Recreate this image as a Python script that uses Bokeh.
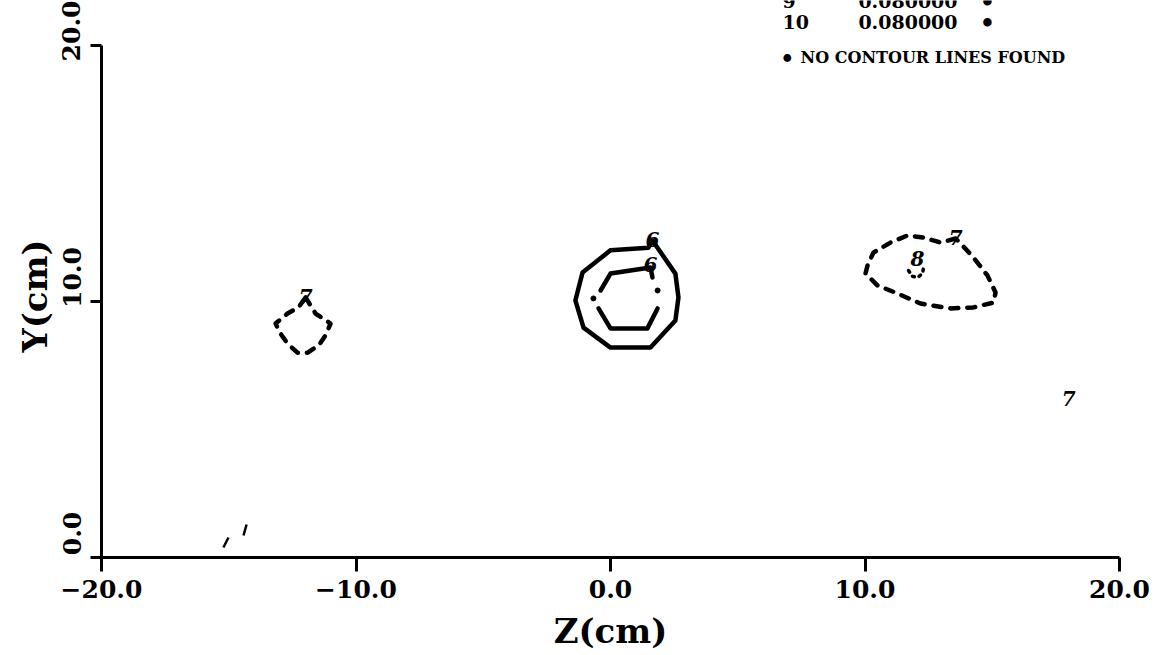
import math

from bokeh.core.properties import value
from bokeh.embed import file_html
from bokeh.models import FixedTicker, Label, LinearAxis, Range1d, Title
from bokeh.plotting import figure
from bokeh.resources import INLINE

FONT = "DejaVu Serif"
W, H = 1165, 655

# Axis ticks and their labels
x_ticks = [-20, -10, 0, 10, 20]
x_tick_labels = ["−20.0", "−10.0", "0.0", "10.0", "20.0"]
y_ticks = [0, 10, 20]
y_tick_labels = ["0.0", "10.0", "20.0"]

# Level 6, solid: outer ring around the centre
lvl6_outer_z = [0.0, 1.49, 1.65, 2.55, 2.67, 2.55, 1.57, 0.0, -1.06, -1.38, -1.10, 0.0]
lvl6_outer_y = [12.0, 12.1, 12.38, 11.09, 10.16, 9.26, 8.2, 8.2, 8.98, 10.04, 11.13, 12.0]

# Level 6, solid: inner ring (broken where the plotter lifted the pen)
lvl6_inner_z = [1.65, 1.57, 0.0, -0.39, math.nan, -0.47, 0.0, 1.45, 1.85]
lvl6_inner_y = [10.94, 11.33, 11.09, 10.43, math.nan, 9.73, 8.95, 8.95, 9.73]
lvl6_dots_z = [-0.67, 1.85]
lvl6_dots_y = [10.12, 10.43]

# Level 7, dashed: right-hand closed contour
lvl7_right_z = [13.56, 12.97, 12.30, 11.67, 11.00, 10.33, 10.10, 10.02, 10.49, 11.28,
                12.18, 13.36, 14.26, 15.05, 15.13, 14.81, 14.26, 13.83, 13.56]
lvl7_right_y = [12.46, 12.30, 12.50, 12.58, 12.30, 11.91, 11.41, 11.09, 10.63, 10.31,
                9.92, 9.73, 9.77, 9.96, 10.35, 11.02, 11.72, 12.19, 12.46]

# Level 7, dashed: left-hand closed contour
lvl7_left_z = [-11.98, -11.59, -11.00, -11.20, -11.47, -11.90, -12.30, -12.69, -12.97,
               -13.16, -12.69, -12.26, -11.98]
lvl7_left_y = [10.16, 9.53, 9.14, 8.67, 8.28, 8.00, 8.00, 8.36, 8.75, 9.14, 9.53, 9.77, 10.16]

# Level 8, dashed: tiny patch inside the right-hand level-7 contour
lvl8_z = [11.71, 11.87, 12.06, 12.26, 12.30]
lvl8_y = [11.21, 10.98, 10.94, 11.09, 11.33]

# Short strokes near the lower-left corner
stroke_z0 = [-15.21, -14.42]
stroke_y0 = [0.39, 0.86]
stroke_z1 = [-15.01, -14.30]
stroke_y1 = [0.78, 1.29]

# Contour level labels
label_z = [1.65, 1.57, 13.56, -11.98, 12.06, 18.0]
label_y = [12.42, 11.45, 12.50, 10.20, 11.68, 6.20]
label_text = ["6", "6", "7", "7", "8", "7"]

# Levels without contour lines
missing_levels = ["9", "10"]
missing_values = ["0.080000", "0.080000"]
missing_note = "NO CONTOUR LINES FOUND"

# Plot area: the axes span z in [-20, 20] and y in [0, 20]; the frame runs up to the
# top edge so that the level table above the axes can be drawn in data space.
FRAME_L, FRAME_R, AXIS_TOP, FRAME_B = 101, 1119, 45, 557
Y_PER_PX = 20.0 / (FRAME_B - AXIS_TOP)
Y_TOP = 20.0 + AXIS_TOP * Y_PER_PX

p = figure(
    width=W, height=H,
    x_range=Range1d(-20, 20), y_range=Range1d(0, Y_TOP),
    output_backend="svg", toolbar_location=None,
    min_border_left=FRAME_L, min_border_right=W - FRAME_R,
    min_border_top=0, min_border_bottom=H - FRAME_B,
)
p.outline_line_color = None
p.xgrid.visible = False
p.ygrid.visible = False
p.background_fill_color = "white"
p.border_fill_color = "white"

for ax in (p.xaxis[0], p.yaxis[0]):
    ax.axis_line_width = 3
    ax.axis_line_color = "black"
    ax.major_tick_line_width = 3
    ax.major_tick_line_color = "black"
    ax.major_tick_in = 0
    ax.minor_tick_in = 0
    ax.minor_tick_out = 0

xa = p.xaxis[0]
xa.ticker = FixedTicker(ticks=x_ticks)
xa.bounds = (-20, 20)
xa.major_label_overrides = {t: s for t, s in zip(x_ticks, x_tick_labels)}
xa.major_tick_out = 14
xa.major_label_standoff = 8
xa.major_label_text_font = FONT
xa.major_label_text_font_style = "bold"
xa.major_label_text_font_size = "25px"
xa.major_label_text_color = "black"
xa.axis_label = "Z(cm)"
xa.axis_label_standoff = 10
xa.axis_label_text_font = FONT
xa.axis_label_text_font_style = "bold"
xa.axis_label_text_font_size = "34px"
xa.axis_label_text_color = "black"

ya = p.yaxis[0]
ya.ticker = FixedTicker(ticks=y_ticks)
ya.bounds = (0, 20)
ya.major_label_overrides = {t: "" for t in y_ticks}
ya.major_tick_out = 11
ya.major_label_standoff = 0

# The vertical y tick labels sit above their ticks: a second, label-only axis on a
# range shifted down by a fixed number of pixels.
LABEL_SHIFT_PX = 24
shift = LABEL_SHIFT_PX * Y_PER_PX
p.extra_y_ranges = {"ylab": Range1d(-shift, Y_TOP - shift)}
ylab = LinearAxis(
    y_range_name="ylab", ticker=FixedTicker(ticks=y_ticks),
    major_label_overrides={t: s for t, s in zip(y_ticks, y_tick_labels)},
    major_label_orientation="vertical",
    axis_line_color=None, major_tick_line_color=None, minor_tick_line_color=None,
    major_tick_out=0, major_tick_in=0, minor_tick_out=0, minor_tick_in=0,
    major_label_standoff=10,
    major_label_text_font=FONT, major_label_text_font_style="bold",
    major_label_text_font_size="25px", major_label_text_color="black",
)
p.add_layout(ylab, "left")

# Y axis title, placed along the drawn part of the axis (offset from the frame bottom)
p.add_layout(Title(
    text="Y(cm)", align="left", offset=205, standoff=10, text_line_height=1.0,
    text_font=FONT, text_font_style="bold", text_font_size="34px", text_color="black",
), "left")

solid = dict(line_color="black", line_width=4.5, line_join="round", line_cap="round")
dashed = dict(line_color="black", line_width=4.5, line_join="round", line_cap="round",
              line_dash="8 9")

p.line(lvl6_outer_z, lvl6_outer_y, **solid)
p.line(lvl6_inner_z, lvl6_inner_y, **solid)
p.scatter(lvl6_dots_z, lvl6_dots_y, size=5, color="black")
p.line(lvl7_right_z, lvl7_right_y, **dashed)
p.line(lvl7_left_z, lvl7_left_y, **dashed)
p.line(lvl8_z, lvl8_y, line_color="black", line_width=3.5, line_cap="round", line_dash="2 5")
p.segment(stroke_z0, stroke_y0, stroke_z1, stroke_y1, line_color="black", line_width=2.5)

p.text(label_z, label_y, text=label_text, text_align="center", text_baseline="middle",
       text_font=value(FONT), text_font_style="bold italic", text_font_size="20px",
       text_color="black")


def table_text(z, y, text, size, align="left"):
    p.add_layout(Label(
        x=z, y=y, text=text, text_align=align, text_baseline="middle",
        text_font=FONT, text_font_style="bold", text_font_size=size, text_color="black",
    ))


# Table of levels that produced no contour lines
for lvl, val, row_y in zip(missing_levels, missing_values, [21.72, 20.90]):
    table_text(6.76, row_y, lvl, "19px")
    table_text(9.74, row_y, val, "19px")
    table_text(14.81, row_y, "•", "24px", align="center")
table_text(6.95, 19.53, "•", "22px", align="center")
table_text(7.47, 19.53, missing_note, "16px")

open("out.html", "w").write(file_html(p, INLINE))
